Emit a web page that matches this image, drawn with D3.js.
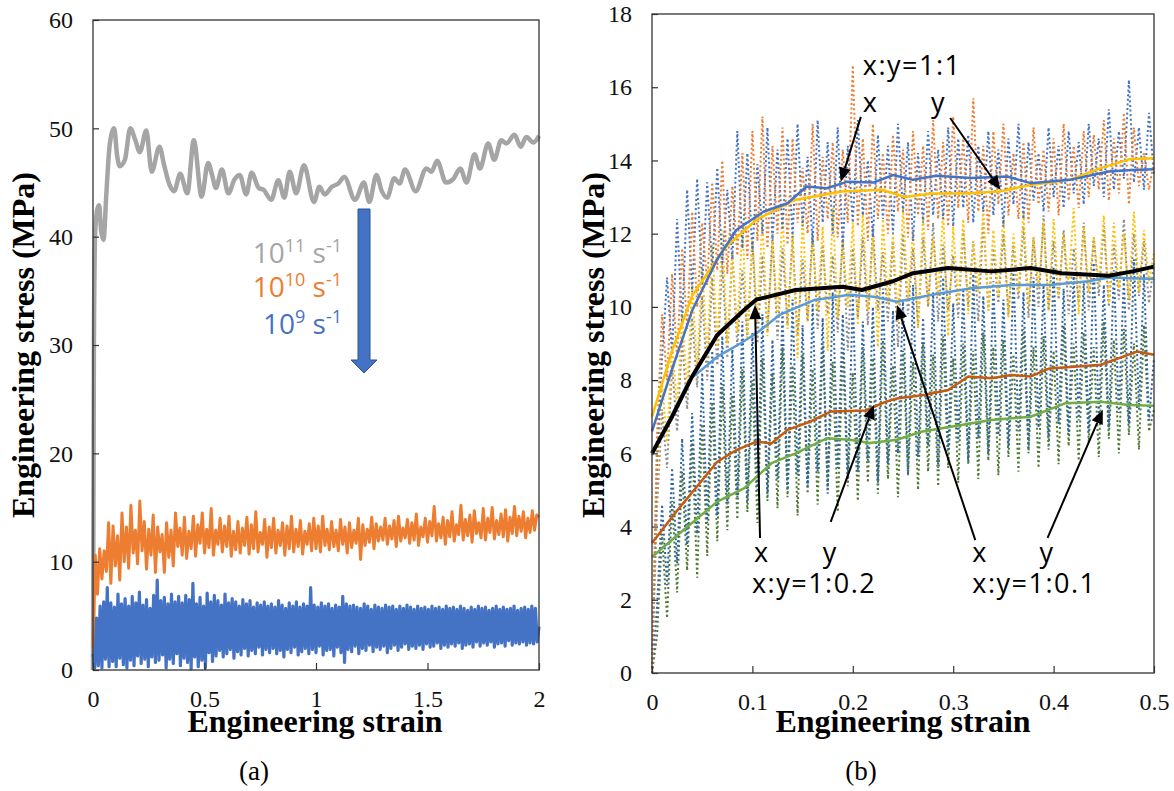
<!DOCTYPE html>
<html><head><meta charset="utf-8">
<script src="https://cdn.jsdelivr.net/npm/d3@7"></script>
<style>body{margin:0;background:#fff}</style>
</head><body>
<script>
// ---------------- DATA ----------------
// Panel (a)
const aXTicks = [0, 0.5, 1, 1.5, 2];
const aYTicks = [0, 10, 20, 30, 40, 50, 60];
const rateLabels = [["10","11"," s","-1"],["10","10"," s","-1"],["10","9"," s","-1"]];
const gray11 = [[0,0],[0.004,30],[0.01,40.5],[0.02,42.6],[0.028,42.9],[0.036,40.6],[0.047,39.7],[0.06,44],[0.075,48.5],[0.095,50],[0.108,47.5],[0.12,46.5],[0.143,47.1],[0.167,50],[0.19,48.9],[0.21,47.8],[0.239,49.8],[0.263,46],[0.298,48.3],[0.319,46.6],[0.343,44.8],[0.364,44.2],[0.391,45.8],[0.423,44],[0.452,48.9],[0.487,43.7],[0.516,46.8],[0.535,45.6],[0.551,44.5],[0.578,46.2],[0.607,44],[0.635,45.3],[0.658,45.7],[0.687,43.9],[0.711,45.9],[0.743,44.5],[0.766,44.3],[0.799,43.4],[0.831,45.2],[0.858,43.6],[0.882,46],[0.911,44],[0.946,46.6],[0.991,43.2],[1.015,44.6],[1.039,43.9],[1.071,44.6],[1.1,44.9],[1.127,45.5],[1.175,43.4],[1.215,45],[1.239,43.2],[1.271,45.7],[1.295,44.2],[1.319,43.6],[1.351,45.4],[1.375,44.9],[1.399,46.2],[1.447,44.2],[1.495,46.3],[1.518,46],[1.543,47],[1.583,45],[1.615,45.3],[1.647,46.3],[1.675,45],[1.711,47.6],[1.735,46.3],[1.772,48.6],[1.799,47.1],[1.831,48.9],[1.854,48.6],[1.89,49.4],[1.918,48.3],[1.943,49.2],[1.975,48.7],[2.0,49.3]];
const orange10Step = 0.01;
const orange10 = [2.0,10.6,7.0,11.2,8.4,11.0,9.1,13.6,8.0,13.3,
9.6,12.4,8.3,14.5,10.0,13.2,9.4,15.2,10.8,12.9,
9.8,15.6,11.0,13.7,9.3,13.0,10.6,14.3,9.0,13.2,
10.9,12.5,9.0,13.6,10.4,12.9,9.6,14.5,11.4,13.1,
10.6,14.1,10.3,12.8,11.2,14.2,10.5,13.4,11.7,14.5,
10.8,13.0,11.3,14.9,10.6,12.9,11.6,14.0,10.9,13.3,
11.4,14.2,10.5,12.8,11.1,13.7,10.8,13.1,11.5,14.1,
10.7,13.4,11.2,14.6,10.9,12.7,11.6,13.9,10.4,13.2,
11.3,14.0,10.8,12.9,11.5,13.6,10.6,13.3,11.2,14.2,
10.9,13.0,11.4,13.8,10.7,12.8,11.6,13.5,11.0,14.0,
11.2,13.3,10.9,14.2,11.5,13.0,11.1,13.7,11.4,12.9,
11.0,13.9,11.6,13.2,10.8,13.6,11.3,12.9,11.7,14.0,
10.2,13.4,11.5,13.0,11.8,14.1,11.2,13.5,11.9,13.2,
12.0,14.0,11.6,13.3,12.1,13.8,11.4,14.2,11.9,13.1,
12.2,13.9,11.7,13.6,12.0,14.4,11.5,13.2,12.3,14.0,
11.8,13.7,12.4,15.1,11.9,13.5,12.2,14.1,11.6,13.8,
12.3,14.6,11.9,13.4,12.5,15.2,12.0,13.9,12.4,14.3,
11.8,14.7,12.6,13.6,12.2,14.9,12.0,14.0,12.7,15.0,
12.1,13.8,12.5,14.4,12.3,14.8,11.9,14.1,12.6,15.1,
12.4,14.2,12.8,14.6,12.2,14.0,12.7,14.7,12.9,14.3,
14.1];
const blue9Step = 0.008;
const blue9 = [1.5,0.2,4.8,0.4,5.9,0.2,6.3,1.0,7.6,0.3,
6.2,0.8,5.8,0.3,7.0,1.1,6.1,0.5,6.6,0.2,
5.9,0.9,6.8,0.4,6.2,1.3,7.2,0.6,6.0,1.0,
6.5,0.3,5.7,1.2,6.9,0.7,8.3,0.9,6.4,1.4,
6.7,0.2,6.1,1.0,7.0,0.6,6.3,1.5,6.8,0.4,
6.2,1.1,6.9,0.7,6.5,0.1,8.0,1.2,6.1,0.3,
6.7,0.9,5.9,0.2,7.1,1.6,6.3,0.8,6.9,1.3,
6.4,1.8,6.0,1.2,7.0,1.5,6.2,1.9,6.6,1.1,
6.3,1.7,5.9,1.4,6.5,2.0,6.1,1.3,6.4,1.8,
5.8,1.5,6.2,2.1,6.0,1.4,6.3,1.9,5.9,1.6,
6.1,2.0,5.8,1.5,6.4,1.8,6.0,1.2,5.7,1.9,
6.2,1.6,5.9,2.1,6.3,1.4,5.8,1.7,6.1,2.0,
5.9,1.5,7.6,1.9,6.0,1.6,5.8,2.2,6.2,1.4,
5.9,1.8,6.1,1.9,5.7,1.3,6.0,2.1,5.8,1.6,
6.8,0.7,6.1,1.9,5.9,1.7,6.0,2.2,5.8,1.5,
5.7,2.0,6.1,1.8,5.9,2.3,5.6,1.7,6.0,2.1,
5.8,1.9,5.7,2.2,6.0,1.6,5.8,2.0,5.9,2.3,
5.6,1.8,5.9,2.1,5.7,2.4,6.0,1.9,5.8,2.2,
5.6,2.0,5.9,2.3,5.7,1.9,5.8,2.4,5.6,2.1,
5.9,2.2,5.7,2.5,5.8,2.0,5.6,2.3,5.9,2.1,
5.7,2.4,5.8,2.2,5.6,2.5,5.9,2.0,5.7,2.3,
5.5,2.4,5.8,2.1,5.6,2.6,5.9,2.2,5.7,2.5,
5.8,2.3,5.5,2.6,5.7,2.1,5.9,2.4,5.6,2.5,
5.8,2.2,5.6,2.7,5.7,2.3,5.9,2.5,5.5,2.4,
5.7,2.6,5.8,2.3,5.6,2.5,5.9,2.4,5.7,2.6,
4.0];

// Panel (b)
const bXTicks = [0, 0.1, 0.2, 0.3, 0.4, 0.5];
const bYTicks = [0, 2, 4, 6, 8, 10, 12, 14, 16, 18];
const rawStep = 0.005;
const raw11x = [0,5.8,8.6,10.8,8.7,12.4,9.5,13.2,10.4,13.5,
10.6,13.4,11.0,13.8,11.2,13.2,11.3,14.8,11.6,14.2,
11.5,13.9,12.0,14.9,11.8,14.3,12.1,14.6,11.9,15.0,
12.2,14.1,11.7,15.1,12.3,14.5,12.0,14.9,11.6,14.4,
12.3,15.1,12.5,14.0,11.9,14.7,12.4,14.4,12.0,15.0,
12.6,14.5,11.8,14.2,12.3,14.8,12.5,14.3,12.4,14.9,
12.2,14.6,12.7,14.7,12.3,14.4,12.6,14.8,12.5,14.3,
12.2,14.6,12.8,15.0,12.4,14.5,12.9,14.2,12.6,14.9,
13.0,14.4,12.7,14.8,13.1,14.5,12.8,15.0,13.3,14.6,
13.0,15.4,13.2,14.8,13.5,16.2,13.4,14.9,13.2,15.3,
13.6];
const raw11y = [0,6.5,9.8,8.0,10.9,8.6,11.6,9.4,12.6,10.0,
12.3,10.6,13.4,11.0,14.0,10.9,13.3,11.4,14.2,11.3,
14.8,11.8,15.2,11.6,14.4,12.0,14.9,11.7,14.6,12.3,
13.8,12.0,15.0,11.8,14.1,12.4,14.5,11.9,14.3,12.3,
16.6,12.2,14.6,11.8,15.0,12.4,14.2,12.0,14.7,12.6,
14.3,11.9,14.8,12.5,14.4,12.1,15.1,12.4,14.5,12.2,
15.2,12.7,14.6,12.3,15.7,12.6,14.4,12.0,14.8,12.8,
15.0,12.5,14.2,12.4,14.5,12.3,14.9,12.8,14.3,12.6,
14.6,12.5,15.0,12.9,14.4,12.7,14.8,13.0,14.7,13.2,
15.1,12.9,14.6,13.1,15.3,12.8,14.9,13.3,14.2,13.2,
14.0];
const raw02x = [0,5.2,7.9,6.3,9.0,7.2,9.8,7.7,10.6,8.3,
11.1,8.6,11.7,8.9,12.1,9.0,11.5,9.3,12.3,9.1,
11.9,9.6,12.4,9.2,11.8,9.7,12.6,9.4,12.0,8.6,
12.5,9.6,11.9,9.9,12.2,8.8,12.7,9.7,11.8,10.0,
12.3,9.5,12.6,9.9,11.9,8.9,12.4,10.1,12.0,9.6,
12.7,10.2,12.1,9.4,12.5,10.0,11.9,10.3,12.6,9.2,
12.2,10.1,12.4,9.8,11.8,10.4,12.7,9.9,12.1,10.3,
12.5,9.7,12.0,10.4,12.6,10.0,11.9,10.5,12.3,9.9,
12.4,10.3,12.0,10.6,12.7,9.8,12.2,10.4,11.9,10.6,
12.5,10.1,12.3,10.5,12.0,10.2,12.6,10.4,12.1,10.7,
11.5];
const raw01x = [0,4.5,7.2,5.6,8.4,6.6,9.1,7.2,9.7,7.8,
10.3,8.0,10.8,8.4,11.2,8.6,11.5,8.9,11.0,9.2,
11.8,9.0,11.4,9.3,12.0,9.1,11.6,9.5,11.9,9.2,
11.3,9.6,12.1,9.4,11.7,9.8,11.4,9.3,12.0,8.8,
11.6,9.7,11.9,9.5,12.2,9.9,11.5,9.6,11.8,8.9,
12.0,9.8,11.6,9.5,11.9,10.0,12.3,9.6,11.7,9.9,
11.4,9.7,12.1,10.0,11.8,9.6,12.4,9.9,11.6,10.1,
12.0,9.8,11.7,10.2,12.2,9.7,11.9,10.0,12.5,9.9,
11.8,10.2,12.1,9.8,11.6,10.1,12.3,9.9,11.9,10.3,
12.2,10.0,11.7,10.2,12.4,9.9,12.0,10.3,11.8,10.1,
11.2];
const raw02y = [0,1.8,4.6,2.4,5.6,3.0,6.4,3.5,7.1,3.8,
8.2,4.1,8.8,4.3,9.2,4.6,8.9,4.8,9.6,4.7,
9.3,5.0,9.8,4.9,9.1,5.3,9.9,5.0,10.2,5.4,
9.5,5.1,10.1,5.5,9.7,4.9,10.4,5.6,9.8,5.3,
10.3,5.5,9.6,5.8,10.0,5.2,10.5,5.7,9.9,6.0,
10.2,5.4,10.6,5.9,9.7,6.2,10.4,5.6,10.8,6.1,
10.1,6.3,10.5,5.8,10.9,6.4,10.3,6.0,10.7,6.5,
10.2,6.2,11.0,6.6,10.4,6.1,10.8,6.7,10.6,6.4,
11.1,6.8,10.5,6.5,10.9,6.9,10.7,6.6,11.2,7.0,
10.6,6.7,11.0,7.1,10.8,6.8,11.3,7.2,10.9,6.9,
8.6];
const raw01y = [0,1.0,3.8,1.5,4.7,2.2,5.5,2.8,6.3,2.6,
6.8,3.2,7.4,3.6,7.9,3.9,7.6,4.2,8.3,4.4,
8.0,4.1,8.6,4.7,8.2,4.5,8.9,4.8,8.4,4.3,
8.7,4.9,8.3,4.6,9.0,5.0,8.5,4.4,8.8,5.1,
8.2,4.7,8.9,5.2,8.6,4.9,9.1,5.3,8.4,4.8,
8.8,5.4,8.5,5.0,9.0,5.5,8.7,5.1,9.2,5.6,
8.6,5.2,9.0,5.7,8.8,5.3,9.3,5.8,8.9,5.4,
9.1,5.9,8.7,5.5,9.4,6.0,8.9,5.6,9.2,6.1,
8.8,5.7,9.5,6.2,9.0,5.8,9.3,6.3,8.9,5.9,
9.6,6.4,9.1,6.0,9.4,6.5,9.0,6.1,9.5,6.6,
7.2];
const avg11x = [[0,6.6],[0.02,8.3],[0.04,9.9],[0.065,11.3],[0.084,12.1],[0.111,12.6],[0.135,12.83],[0.154,13.29],[0.174,13.24],[0.195,13.42],[0.221,13.4],[0.24,13.6],[0.26,13.47],[0.283,13.58],[0.318,13.52],[0.354,13.56],[0.377,13.38],[0.416,13.47],[0.455,13.7],[0.479,13.74],[0.5,13.76]];
const avg11y = [[0,7.0],[0.02,8.8],[0.04,10.3],[0.072,11.6],[0.104,12.38],[0.142,12.92],[0.189,13.15],[0.229,13.2],[0.252,13.0],[0.279,13.1],[0.311,13.1],[0.346,13.15],[0.377,13.33],[0.416,13.47],[0.447,13.79],[0.475,14.03],[0.5,14.06]];
const avg02x = [[0,6.0],[0.02,7.0],[0.04,8.1],[0.065,9.23],[0.092,9.92],[0.104,10.2],[0.143,10.46],[0.19,10.55],[0.209,10.46],[0.24,10.7],[0.26,10.92],[0.295,11.06],[0.338,10.97],[0.377,11.06],[0.408,10.92],[0.455,10.85],[0.479,10.97],[0.5,11.1]];
const avg01x = [[0,5.95],[0.037,8.0],[0.065,8.64],[0.088,9.0],[0.104,9.28],[0.127,9.78],[0.162,10.19],[0.197,10.33],[0.221,10.28],[0.244,10.14],[0.279,10.33],[0.318,10.51],[0.358,10.6],[0.396,10.6],[0.435,10.7],[0.455,10.8],[0.5,10.76]];
const avg02y = [[0,3.55],[0.0255,4.45],[0.065,5.77],[0.084,6.09],[0.104,6.32],[0.119,6.27],[0.135,6.64],[0.158,6.87],[0.178,7.14],[0.213,7.17],[0.233,7.41],[0.244,7.5],[0.272,7.6],[0.295,7.73],[0.315,8.1],[0.338,8.05],[0.358,8.14],[0.377,8.1],[0.396,8.32],[0.424,8.37],[0.447,8.42],[0.483,8.78],[0.5,8.69]];
const avg01y = [[0,3.17],[0.0255,3.77],[0.065,4.68],[0.092,5.05],[0.119,5.73],[0.143,6.0],[0.174,6.41],[0.197,6.37],[0.217,6.28],[0.244,6.37],[0.268,6.59],[0.299,6.73],[0.338,6.91],[0.377,7.0],[0.412,7.37],[0.447,7.41],[0.475,7.32],[0.5,7.3]];
// annotations: [text, x, y] in data units ; arrows: [x1,y1,x2,y2]
const bLabels = [["x:y=1:1",0.21,16.34],["x",0.21,15.33],["y",0.278,15.33],["x",0.1016,3.03],["y",0.17,3.03],["x:y=1:0.2",0.0996,2.19],["x",0.319,3.03],["y",0.386,3.03],["x:y=1:0.1",0.319,2.19]];
const bArrows = [[0.208,15.19,0.188,13.42],[0.297,15.16,0.347,13.2],[0.1076,3.69,0.1026,10.05],[0.178,4.13,0.221,7.32],[0.322,3.63,0.244,10.05],[0.394,3.69,0.449,7.19]];

// ---------------- DRAW ----------------
const W = 1174, H = 791;
const serif = '"Liberation Serif","Times New Roman",serif';
const sans = '"Open Sans","Liberation Sans",sans-serif';
const svg = d3.select('body').append('svg').attr('width', W).attr('height', H);

function frame(x, y, fmt, xt, yt) {
  const g = svg.append('g');
  const ax = g.append('g').attr('transform', `translate(0,${y.range()[0]})`)
    .call(d3.axisBottom(x).tickValues(xt).tickFormat(fmt).tickSizeInner(-7).tickSizeOuter(0).tickPadding(20));
  const ay = g.append('g').attr('transform', `translate(${x.range()[0]},0)`)
    .call(d3.axisLeft(y).tickValues(yt).tickSizeInner(-6).tickSizeOuter(0).tickPadding(20));
  [ax, ay].forEach(a => {
    a.attr('font-family', serif).attr('font-size', 24);
    a.select('.domain').remove();
    a.selectAll('line').attr('stroke', '#333').attr('stroke-width', 1.2);
    a.selectAll('text').attr('font-family', serif).attr('font-size', 24).attr('fill', '#111');
  });
  g.append('rect').attr('x', x.range()[0]).attr('y', y.range()[1])
    .attr('width', x.range()[1] - x.range()[0]).attr('height', y.range()[0] - y.range()[1])
    .attr('fill', 'none').attr('stroke', '#333').attr('stroke-width', 1.3);
}

// ---- Panel (a)
const xA = d3.scaleLinear().domain([0, 2]).range([93, 539]);
const yA = d3.scaleLinear().domain([0, 60]).range([670, 20]);
const lineA = d3.line().x(d => xA(d[0])).y(d => yA(d[1]));
svg.append('path').datum(gray11).attr('d', lineA.curve(d3.curveMonotoneX)).attr('fill', 'none')
  .attr('stroke', '#A5A5A5').attr('stroke-width', 4.5);
lineA.curve(d3.curveLinear);
svg.append('path').datum(orange10.map((v, i) => [i * orange10Step, v])).attr('d', lineA).attr('fill', 'none')
  .attr('stroke', '#ED7D31').attr('stroke-width', 3).attr('stroke-linejoin', 'round');
svg.append('path').datum(blue9.map((v, i) => [i * blue9Step, v])).attr('d', lineA).attr('fill', 'none')
  .attr('stroke', '#4472C4').attr('stroke-width', 3.2).attr('stroke-linejoin', 'round');
frame(xA, yA, d3.format('~g'), aXTicks, aYTicks);

// legend
const legColors = ['#A5A5A5', '#ED7D31', '#4472C4'];
const legY = [263, 297, 334];
rateLabels.forEach((r, i) => {
  const t = svg.append('text').attr('x', 342).attr('y', legY[i]).attr('text-anchor', 'end')
    .attr('font-family', sans).attr('font-size', 28).attr('fill', legColors[i]);
  t.append('tspan').text(r[0]);
  t.append('tspan').attr('font-size', 18).attr('dy', -11).text(r[1]);
  t.append('tspan').attr('dy', 11).text(r[2]);
  t.append('tspan').attr('font-size', 18).attr('dy', -11).text(r[3]);
});
// block arrow
svg.append('path').attr('d', 'M358,209 L370,209 L370,360 L377,360 L364,373 L351,360 L358,360 Z')
  .attr('fill', '#4472C4').attr('stroke', '#2F528F').attr('stroke-width', 1);

// titles
function titles(cx, tx, ty, label) {
  svg.append('text').attr('x', cx).attr('y', 732).attr('text-anchor', 'middle')
    .attr('font-family', serif).attr('font-weight', 'bold').attr('font-size', 32).text('Engineering strain');
  svg.append('text').attr('transform', `translate(${tx},${ty}) rotate(-90)`).attr('text-anchor', 'middle')
    .attr('font-family', serif).attr('font-weight', 'bold').attr('font-size', 32).text('Engineering stress (MPa)');
  svg.append('text').attr('x', label[0]).attr('y', 780).attr('text-anchor', 'middle')
    .attr('font-family', serif).attr('font-size', 27).text(label[1]);
}
titles(315, 34, 345, [254, '(a)']);

// ---- Panel (b)
const xB = d3.scaleLinear().domain([0, 0.5]).range([652, 1154]);
const yB = d3.scaleLinear().domain([0, 18]).range([673, 14]);
const lineB = d3.line().x(d => xB(d[0])).y(d => yB(d[1]));
const dotted = [[raw01y, '#4E7A30'], [raw02y, '#2E64A6'], [raw01x, '#8C8C8C'], [raw02x, '#FFC000'], [raw11x, '#4472C4'], [raw11y, '#ED7D31']];
dotted.forEach(([arr, c]) => {
  svg.append('path').datum(arr.map((v, i) => [i * rawStep, v])).attr('d', lineB).attr('fill', 'none')
    .attr('stroke', c).attr('stroke-width', 2).attr('stroke-dasharray', '2,2.6');
});
const smooth = [[avg01y, '#70AD47', 2.5], [avg02y, '#C55A11', 2.5], [avg01x, '#5B9BD5', 2.5], [avg02x, '#000000', 4], [avg11y, '#FFC000', 2.5], [avg11x, '#4472C4', 2.5]];
smooth.forEach(([arr, c, w]) => {
  svg.append('path').datum(arr).attr('d', lineB).attr('fill', 'none').attr('stroke', c).attr('stroke-width', w)
    .attr('stroke-linejoin', 'round');
});
frame(xB, yB, d3.format('~g'), bXTicks, bYTicks);
titles(903, 604, 345, [861, '(b)']);

// annotations
bLabels.forEach(([t, x, y]) => {
  svg.append('text').attr('x', xB(x)).attr('y', yB(y)).attr('font-family', sans).attr('font-size', 27)
    .attr('letter-spacing', 1.5).attr('fill', '#000').text(t);
});
bArrows.forEach(([x1, y1, x2, y2]) => {
  const X1 = xB(x1), Y1 = yB(y1), X2 = xB(x2), Y2 = yB(y2);
  const dx = X2 - X1, dy = Y2 - Y1, L = Math.hypot(dx, dy), ux = dx / L, uy = dy / L;
  const hl = 14, hw = 6;
  const bx = X2 - ux * hl, by = Y2 - uy * hl;
  svg.append('line').attr('x1', X1).attr('y1', Y1).attr('x2', bx).attr('y2', by)
    .attr('stroke', '#000').attr('stroke-width', 2);
  svg.append('path').attr('d', `M${X2},${Y2} L${bx - uy * hw},${by + ux * hw} L${bx + uy * hw},${by - ux * hw} Z`)
    .attr('fill', '#000');
});
</script>
</body></html>
